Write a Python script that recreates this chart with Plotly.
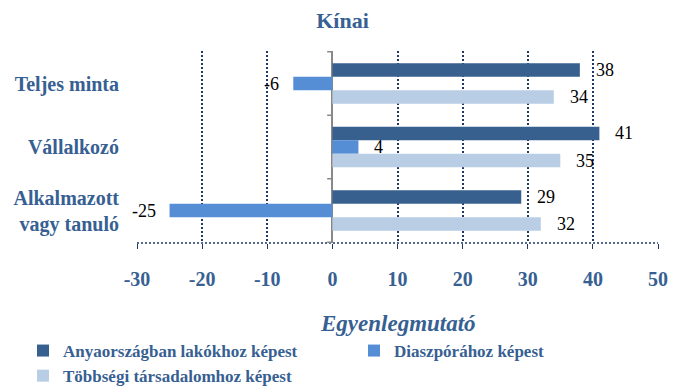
import plotly.graph_objects as go

# Categories (top to bottom) and the three balance-index series
categories = ["Teljes minta", "Vállalkozó", "Alkalmazott<br>vagy tanuló"]
series_names = [
    "Anyaországban lakókhoz képest",
    "Diaszpórához képest",
    "Többségi társadalomhoz képest",
]
anyaorszag = [38, 41, 29]
diaszpora = [-6, 4, -25]
tobbsegi = [34, 35, 32]
x_ticks = [-30, -20, -10, 0, 10, 20, 30, 40, 50]

series_values = [anyaorszag, diaszpora, tobbsegi]
colors = ["#37608F", "#558ED5", "#B9CDE5"]
text_blue = "#376092"
grid_blue = "#1F3864"
serif = "Liberation Serif"

BARGAP = 0.36
n_series = len(series_values)
bar_w = (1 - BARGAP) / n_series

W, H = 685, 388
M_L, M_R, M_T, M_B = 137, 27, 51, 145
plot_w = W - M_L - M_R
plot_h = H - M_T - M_B

fig = go.Figure()
for name, vals, col in zip(series_names, series_values, colors):
    fig.add_trace(go.Bar(
        y=categories, x=vals, name=name, orientation="h",
        marker=dict(color=col, line=dict(width=0)),
        hoverinfo="x+name",
    ))

# value labels placed just beyond each bar end
annotations = []
for i, vals in enumerate(series_values):
    offset = (i - (n_series - 1) / 2) * bar_w
    for j, v in enumerate(vals):
        annotations.append(dict(
            x=v, y=j + offset, xref="x", yref="y",
            text=str(v), showarrow=False,
            xanchor="left" if v >= 0 else "right",
            xshift=14 if v >= 0 else -12,
            yanchor="middle",
            font=dict(family=serif, size=18, color="black"),
        ))

# axis title below the tick labels
annotations.append(dict(
    x=0.5, y=-0.42, xref="paper", yref="paper",
    text="Egyenlegmutató", showarrow=False,
    xanchor="center", yanchor="middle",
    font=dict(family=serif, size=23, color=text_blue, weight="bold", style="italic"),
))

shapes = [
    # dotted baseline along the bottom of the plot area
    dict(type="line", xref="paper", yref="paper", x0=0, x1=1, y0=0, y1=0,
         line=dict(color=grid_blue, width=1.5, dash="2px,2px"), layer="above"),
]
# small category-boundary ticks on the zero axis
for yb in [-0.5, 0.5, 1.5, 2.5]:
    shapes.append(dict(type="line", xref="x", yref="y", x0=-0.8, x1=0, y0=yb, y1=yb,
                       line=dict(color="#888888", width=1.5), layer="above"))

fig.update_layout(
    width=W, height=H,
    margin=dict(l=M_L, r=M_R, t=M_T, b=M_B, autoexpand=False),
    paper_bgcolor="white", plot_bgcolor="white",
    barmode="group", bargap=BARGAP, bargroupgap=0,
    title=dict(
        text="Kínai", x=0.5, xref="container", xanchor="center",
        y=1 - 20 / H, yref="container", yanchor="middle",
        font=dict(family=serif, size=22, color=text_blue, weight="bold"),
    ),
    xaxis=dict(
        range=[-30, 50], tickvals=x_ticks, ticktext=[str(t) for t in x_ticks],
        showgrid=True, gridcolor=grid_blue, gridwidth=1.5, griddash="2px,2px",
        zeroline=True, zerolinecolor="#888888", zerolinewidth=2,
        showline=False, ticks="outside", ticklen=5, tickcolor=grid_blue, tickwidth=1,
        ticklabelstandoff=13,
        tickfont=dict(family=serif, size=20, color=text_blue, weight="bold"),
    ),
    yaxis=dict(
        type="category", categoryorder="array", categoryarray=categories,
        autorange="reversed", showgrid=False, zeroline=False, showline=False,
        ticks="", ticklabelstandoff=17,
        tickfont=dict(family=serif, size=20, color=text_blue, weight="bold"),
    ),
    showlegend=True,
    legend=dict(
        orientation="h",
        x=(23 - M_L) / plot_w, xanchor="left",
        y=(H - M_B - 333) / plot_h, yanchor="top",
        entrywidth=286, entrywidthmode="pixels",
        font=dict(family=serif, size=17, color=text_blue, weight="bold"),
        bgcolor="rgba(0,0,0,0)", itemclick=False,
    ),
    annotations=annotations,
    shapes=shapes,
)

fig.write_html("out.html")
